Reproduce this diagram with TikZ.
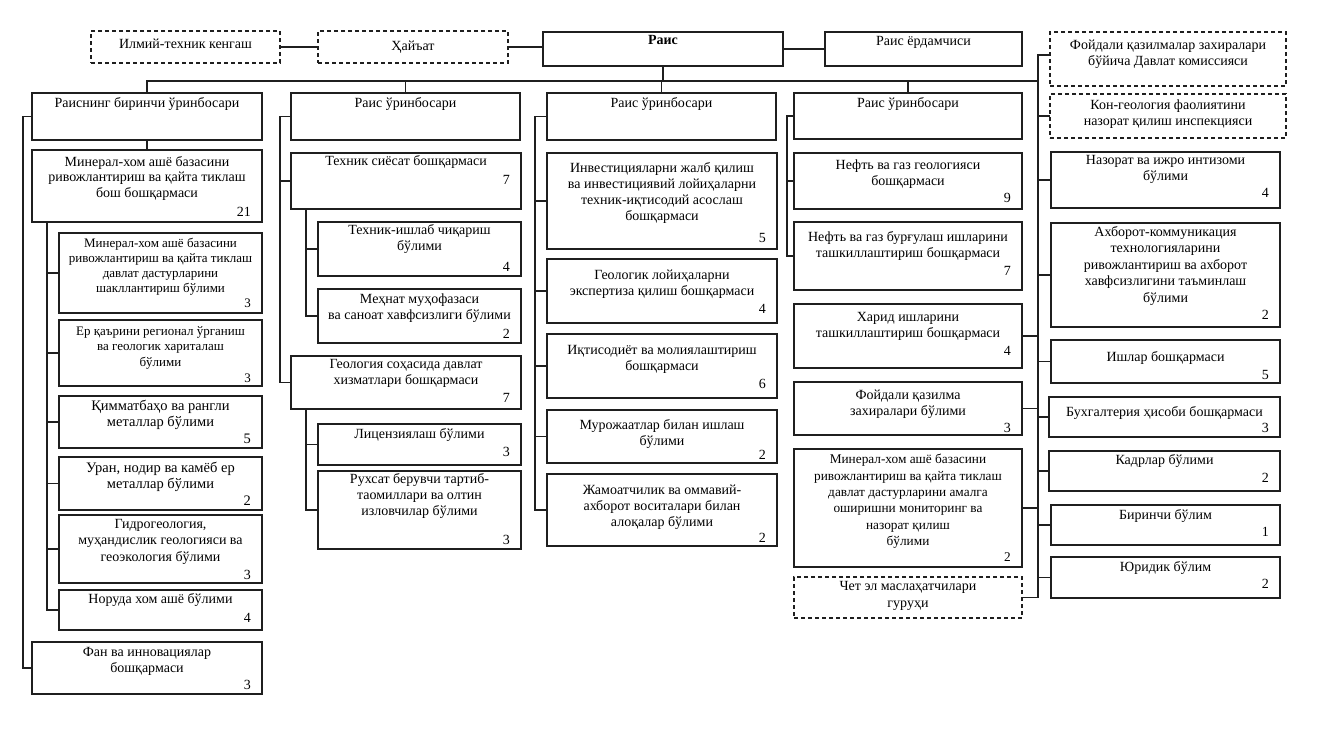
\documentclass[tikz,border=0pt]{standalone}
\usepackage{fontspec}
\setmainfont{Liberation Serif}
\newcommand\fsz{\fontsize{\fszv pt}{\lsv pt}\selectfont}
\tikzset{
 box/.style={draw=black!88, line width=1.3pt, inner sep=0pt, outer sep=0pt, anchor=north west, fill=white},
 dbox/.style={box, dash pattern=on 4pt off 3pt, line width=1.2pt},
 curbox/.style={box},
 dsh/.style={curbox/.style={dbox}},
 txt/.style={anchor=north, align=center, inner sep=0pt, font=\fsz},
 num/.style={anchor=base east, inner sep=0pt, font=\fsz},
 conn/.style={draw=black!88, line width=1.2pt},
 toff/.store in=\toffv, toff=4,
 nb/.store in=\nbv, nb=6,
 fs/.store in=\fszv, fs=14,
 ls/.store in=\lsv, ls=16,
}
% #1 options, #2 name, #3 x1, #4 y1, #5 x2, #6 y2, #7 text, #8 number
\newcommand\ub[8][]{%
 \begin{scope}[#1]
 \node[curbox, minimum width={(#5-#3)*1pt}, minimum height={(#6-#4)*1pt}] (#2) at (#3,#4) {};
 \node[txt] (#2-t) at ([yshift=-\toffv pt]#2.north) {#7};
 \if\relax\detokenize{#8}\relax\else
 \node[num] (#2-n) at ([xshift=-11pt,yshift=\nbv pt]#2.south east) {#8};
 \fi
 \end{scope}}
\begin{document}
\begin{tikzpicture}[x=1pt,y=-1pt]
\path[use as bounding box, fill=white] (0,0) rectangle (1321,732);
% top row
\ub[dsh,toff=8]{ilm}{91}{31}{280}{63}{Илмий-техник кенгаш}{}
\ub[dsh,toff=10]{hay}{318}{31}{508}{63}{Ҳайъат}{}
\ub[toff=3]{rais}{543}{32}{783}{66}{\textbf{Раис}}{}
\ub[toff=4]{yord}{825}{32}{1022}{66}{Раис ёрдамчиси}{}
\ub[dsh,toff=8]{fdq}{1050}{32}{1286}{86}{Фойдали қазилмалар захиралари\\бўйича Давлат комиссияси}{}
\ub[dsh,toff=6]{kon}{1050}{94}{1286}{138}{Кон-геология фаолиятини\\назорат қилиш инспекцияси}{}
% headers
\ub{h1}{32}{93}{262}{140}{Раиснинг биринчи ўринбосари}{}
\ub{h2}{291}{93}{520}{140}{Раис ўринбосари}{}
\ub{h3}{547}{93}{776}{140}{Раис ўринбосари}{}
\ub{h4}{794}{93}{1022}{139}{Раис ўринбосари}{}
% column 1
\ub[toff=6,nb=6,ls=15.5]{mb}{32}{150}{262}{222}{Минерал-хом ашё базасини\\ривожлантириш ва қайта тиклаш\\бош бошқармаси}{21}
\ub[toff=5,nb=6,fs=13,ls=15]{s1}{59}{233}{262}{313}{Минерал-хом ашё базасини\\ривожлантириш ва қайта тиклаш\\давлат дастурларини\\шакллантириш бўлими}{3}
\ub[toff=6,nb=4,fs=13,ls=15.5]{s2}{59}{320}{262}{386}{Ер қаърини регионал ўрганиш\\ва геологик хариталаш\\бўлими}{3}
\ub[toff=4,nb=5,fs=14.5,ls=16]{s3}{59}{396}{262}{448}{Қимматбаҳо ва рангли\\металлар бўлими}{5}
\ub[toff=5,nb=5,fs=14.5,ls=16]{s4}{59}{457}{262}{510}{Уран, нодир ва камёб ер\\металлар бўлими}{2}
\ub[toff=4,nb=4,ls=16.5]{s5}{59}{515}{262}{583}{Гидрогеология,\\муҳандислик геологияси ва\\геоэкология бўлими}{3}
\ub[toff=3,nb=8]{s6}{59}{590}{262}{630}{Норуда хом ашё бўлими}{4}
\ub[toff=5,nb=5]{fan}{32}{642}{262}{694}{Фан ва инновациялар\\бошқармаси}{3}
% column 2
\ub[toff=2,nb=25]{ts}{291}{153}{521}{209}{Техник сиёсат бошқармаси}{7}
\ub[toff=2,nb=5]{tip}{318}{222}{521}{276}{Техник-ишлаб чиқариш\\бўлими}{4}
\ub[toff=5,nb=5]{mx}{318}{289}{521}{343}{Меҳнат муҳофазаси\\ва саноат хавфсизлиги бўлими}{2}
\ub[toff=3,nb=7]{gs}{291}{356}{521}{409}{Геология соҳасида давлат\\хизматлари бошқармаси}{7}
\ub[toff=4,nb=9]{lic}{318}{424}{521}{465}{Лицензиялаш бўлими}{3}
\ub[toff=2,nb=5]{rux}{318}{471}{521}{549}{Рухсат берувчи тартиб-\\таомиллари ва олтин\\изловчилар бўлими}{3}
% column 3
\ub[toff=9,nb=7]{inv}{547}{153}{777}{249}{Инвестицияларни жалб қилиш\\ва инвестициявий лойиҳаларни\\техник-иқтисодий асослаш\\бошқармаси}{5}
\ub[toff=11,nb=10]{gl}{547}{259}{777}{323}{Геологик лойиҳаларни\\экспертиза қилиш бошқармаси}{4}
\ub[toff=11,nb=10]{iq}{547}{334}{777}{398}{Иқтисодиёт ва молиялаштириш\\бошқармаси}{6}
\ub[toff=9,nb=4]{mur}{547}{410}{777}{463}{Мурожаатлар билан ишлаш\\бўлими}{2}
\ub[toff=11,nb=4]{jam}{547}{474}{777}{546}{Жамоатчилик ва оммавий-\\ахборот воситалари билан\\алоқалар бўлими}{2}
% column 4
\ub[toff=7,nb=7]{ng}{794}{153}{1022}{209}{Нефть ва газ геологияси\\бошқармаси}{9}
\ub[toff=9,nb=15]{nbq}{794}{222}{1022}{290}{Нефть ва газ бурғулаш ишларини\\ташкиллаштириш бошқармаси}{7}
\ub[toff=8,nb=13]{har}{794}{304}{1022}{368}{Харид ишларини\\ташкиллаштириш бошқармаси}{4}
\ub[toff=8,nb=3]{fq}{794}{382}{1022}{435}{Фойдали қазилма\\захиралари бўлими}{3}
\ub[toff=5,nb=6,fs=13.3,ls=16.4]{mm}{794}{449}{1022}{567}{Минерал-хом ашё базасини\\ривожлантириш ва қайта тиклаш\\давлат дастурларини амалга\\оширишни мониторинг ва\\назорат қилиш\\бўлими}{2}
\ub[dsh,toff=4,ls=17]{chet}{794}{577}{1022}{618}{Чет эл маслаҳатчилари\\гуруҳи}{}
% right column
\ub[toff=3,nb=11]{naz}{1051}{152}{1280}{208}{Назорат ва ижро интизоми\\бўлими}{4}
\ub[toff=3,nb=8,ls=16.5]{axb}{1051}{223}{1280}{327}{Ахборот-коммуникация\\технологияларини\\ривожлантириш ва ахборот\\хавфсизлигини таъминлаш\\бўлими}{2}
\ub[toff=11,nb=4]{ish}{1051}{340}{1280}{383}{Ишлар бошқармаси}{5}
\ub[toff=9,nb=5]{bux}{1049}{397}{1280}{437}{Бухгалтерия ҳисоби бошқармаси}{3}
\ub[toff=3,nb=9]{kad}{1049}{451}{1280}{491}{Кадрлар бўлими}{2}
\ub[toff=4,nb=9]{bir}{1051}{505}{1280}{545}{Биринчи бўлим}{1}
\ub[toff=4,nb=10]{yur}{1051}{557}{1280}{598}{Юридик бўлим}{2}
% connectors
\coordinate (busy) at (0,81);
\coordinate (rvx) at (1038,0);
\coordinate (fdqtick) at (1050,55);
\coordinate (v1) at (23,0);
\coordinate (v1b) at (47,0);
\coordinate (v2) at (280,0);
\coordinate (v2b) at (306,0);
\coordinate (v3) at (535,0);
\coordinate (v4) at (787,0);
\draw[conn] (ilm.east) -- (hay.west);
\draw[conn] (hay.east) -- (hay.east -| rais.west);
\draw[conn] (rais.east) -- (yord.west);
\draw[conn] (h1.north) -- (h1.north |- busy) -- (rvx |- busy);
\draw[conn] (rais.south) -- (rais.south |- busy);
\foreach \h in {h2,h3,h4} \draw[conn] (\h.north) -- (\h.north |- busy);
\draw[conn] (fdq.west |- fdqtick) -- (rvx |- fdqtick) -- (rvx |- chet.east);
\foreach \b in {kon,naz,axb,ish,bux,kad,bir,yur} \draw[conn] (rvx |- \b.west) -- (\b.west);
\foreach \b in {har,fq,mm,chet} \draw[conn] (\b.east) -- (rvx |- \b.east);
% column 1
\draw[conn] (h1.west) -- (v1 |- h1.west) -- (v1 |- fan.west) -- (fan.west);
\draw[conn] (h1.south) -- (mb.north);
\draw[conn] (v1b |- mb.south) -- (v1b |- s6.west) -- (s6.west);
\foreach \b in {s1,s2,s3,s4,s5} \draw[conn] (v1b |- \b.west) -- (\b.west);
% column 2
\draw[conn] (h2.west) -- (v2 |- h2.west) -- (v2 |- gs.west) -- (gs.west);
\draw[conn] (v2 |- ts.west) -- (ts.west);
\draw[conn] (v2b |- ts.south) -- (v2b |- mx.west) -- (mx.west);
\draw[conn] (v2b |- tip.west) -- (tip.west);
\draw[conn] (v2b |- gs.south) -- (v2b |- rux.west) -- (rux.west);
\draw[conn] (v2b |- lic.west) -- (lic.west);
% column 3
\draw[conn] (h3.west) -- (v3 |- h3.west) -- (v3 |- jam.west) -- (jam.west);
\foreach \b in {inv,gl,iq,mur} \draw[conn] (v3 |- \b.west) -- (\b.west);
% column 4
\draw[conn] (h4.west) -- (v4 |- h4.west) -- (v4 |- nbq.west) -- (nbq.west);
\draw[conn] (v4 |- ng.west) -- (ng.west);
\end{tikzpicture}
\end{document}
